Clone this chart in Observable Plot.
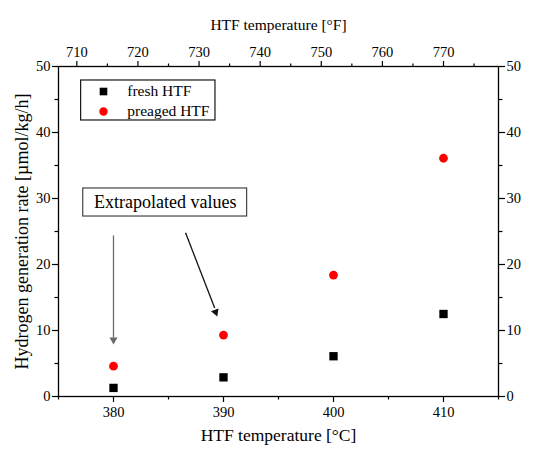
<!DOCTYPE html>
<html>
<head>
<meta charset="utf-8">
<script src="https://cdn.jsdelivr.net/npm/d3@7"></script>
<script src="https://cdn.jsdelivr.net/npm/@observablehq/plot@0.6"></script>
<style>
  body { margin: 0; background: #fff; }
  svg, svg text { font-family: "Liberation Serif", "Times New Roman", serif !important; }
</style>
</head>
<body>
<div id="chart"></div>
<script>
// ---- data ----
const temperaturesC = [380, 390, 400, 410];
const freshRate = [1.3, 2.9, 6.1, 12.5];
const preagedRate = [4.6, 9.3, 18.4, 36.1];

const xMajorTicks = [380, 390, 400, 410];
const xMinorTicks = [375, 385, 395, 405, 415];
const fMajorTicks = [710, 720, 730, 740, 750, 760, 770];
const fMinorTicks = [715, 725, 735, 745, 755, 765, 775];
const yMajorTicks = [0, 10, 20, 30, 40, 50];
const yMinorTicks = [5, 15, 25, 35, 45];

const seriesNames = ["fresh HTF", "preaged HTF"];
const xLabel = "HTF temperature [°C]";
const x2Label = "HTF temperature [°F]";
const yLabel = "Hydrogen generation rate [µmol/kg/h]";
const noteText = "Extrapolated values";

// annotation placement (data coordinates)
const legendBox = [{x1: 377.06, x2: 389.27, y1: 41.82, y2: 47.88}];
const legendItems = [
  {name: seriesNames[0], x: 379.09, tx: 381.25, y: 46.21},
  {name: seriesNames[1], x: 379.09, tx: 381.25, y: 43.18}
];
const noteBox = [{x1: 377.25, x2: 392.15, y1: 27.27, y2: 31.52}];
const arrows = [
  {x1: 380, y1: 24.4, x2: 380, y2: 8.9, hx: 380, hy: 8.6, rot: 180, color: "#6a6a6a"},
  {x1: 386.55, y1: 24.8, x2: 389.2, y2: 13.4, hx: 389.28, hy: 12.8, rot: 159.1, color: "#111"}
];

const fresh = temperaturesC.map((t, i) => ({t, v: freshRate[i]}));
const preaged = temperaturesC.map((t, i) => ({t, v: preagedRate[i]}));
const fToC = f => (f - 32) * 5 / 9;
const blank = () => "";
const serif = "Liberation Serif";

const chart = Plot.plot({
  width: 538,
  height: 451,
  marginLeft: 58,
  marginRight: 40,
  marginTop: 66,
  marginBottom: 55,
  style: {fontFamily: serif, fontSize: "14.5px", color: "#000", background: "#fff"},
  x: {domain: [375, 415]},
  y: {domain: [0, 50]},
  marks: [
    // bottom axis
    Plot.axisX(xMajorTicks, {anchor: "bottom", tickSize: 6, tickPadding: 4, fontSize: 14.5, fontFamily: serif, label: null, strokeWidth: 1.2}),
    Plot.axisX(xMinorTicks, {anchor: "bottom", tickSize: 3.5, tickFormat: blank, label: null, strokeWidth: 1.2}),
    // top axis (°F)
    Plot.axisX(fMajorTicks.map(fToC), {anchor: "top", tickSize: 6, tickPadding: 4, fontSize: 14.5, fontFamily: serif, label: null, strokeWidth: 1.2,
      tickFormat: c => Math.round(c * 9 / 5 + 32)}),
    Plot.axisX(fMinorTicks.map(fToC), {anchor: "top", tickSize: 3.5, tickFormat: blank, label: null, strokeWidth: 1.2}),
    // left axis
    Plot.axisY(yMajorTicks, {anchor: "left", tickSize: 6, tickPadding: 2, fontSize: 14.5, fontFamily: serif, label: null, strokeWidth: 1.2}),
    Plot.axisY(yMinorTicks, {anchor: "left", tickSize: 3.5, tickFormat: blank, label: null, strokeWidth: 1.2}),
    // right axis
    Plot.axisY(yMajorTicks, {anchor: "right", tickSize: 6, tickPadding: 2, fontSize: 14.5, fontFamily: serif, label: null, strokeWidth: 1.2}),
    Plot.axisY(yMinorTicks, {anchor: "right", tickSize: 3.5, tickFormat: blank, label: null, strokeWidth: 1.2}),
    Plot.frame({stroke: "#000", strokeWidth: 1.3}),
    // axis titles
    Plot.text([xLabel], {frameAnchor: "bottom", dy: 44, fontSize: 17.5, fontFamily: serif, fill: "#000"}),
    Plot.text([x2Label], {frameAnchor: "top", dy: -48, fontSize: 15.5, fontFamily: serif, fill: "#000"}),
    Plot.text([yLabel], {frameAnchor: "left", textAnchor: "middle", dx: -36, rotate: -90, fontSize: 18, fontFamily: serif, fill: "#000"}),
    // data
    Plot.dot(fresh, {x: "t", y: "v", symbol: "square", r: 4.7, fill: "#000", stroke: null}),
    Plot.dot(preaged, {x: "t", y: "v", symbol: "circle", r: 4.4, fill: "#ff0000", stroke: null}),
    // legend
    Plot.rect(legendBox, {x1: "x1", x2: "x2", y1: "y1", y2: "y2", fill: "#fff", stroke: "#000", strokeWidth: 1.1}),
    Plot.dot(legendItems.slice(0, 1), {x: "x", y: "y", symbol: "square", r: 4.3, fill: "#000"}),
    Plot.dot(legendItems.slice(1), {x: "x", y: "y", symbol: "circle", r: 4.2, fill: "#ff0000"}),
    Plot.text(legendItems, {x: "tx", y: "y", text: "name", textAnchor: "start", fontSize: 15.5, fontFamily: serif, fill: "#000"}),
    // note box
    Plot.rect(noteBox, {x1: "x1", x2: "x2", y1: "y1", y2: "y2", fill: "#fff", stroke: "#333", strokeWidth: 1.1}),
    Plot.text(noteBox, {x: d => (d.x1 + d.x2) / 2, y: d => (d.y1 + d.y2) / 2, text: () => noteText, fontSize: 18, fontFamily: serif, fill: "#000"}),
    // arrows
    Plot.link(arrows, {x1: "x1", y1: "y1", x2: "x2", y2: "y2", stroke: "color", strokeWidth: 1.3}),
    Plot.dot(arrows, {x: "hx", y: "hy", symbol: "triangle", r: 3.0, rotate: "rot", fill: "color", stroke: null})
  ]
});

document.getElementById("chart").appendChild(chart);
</script>
</body>
</html>
